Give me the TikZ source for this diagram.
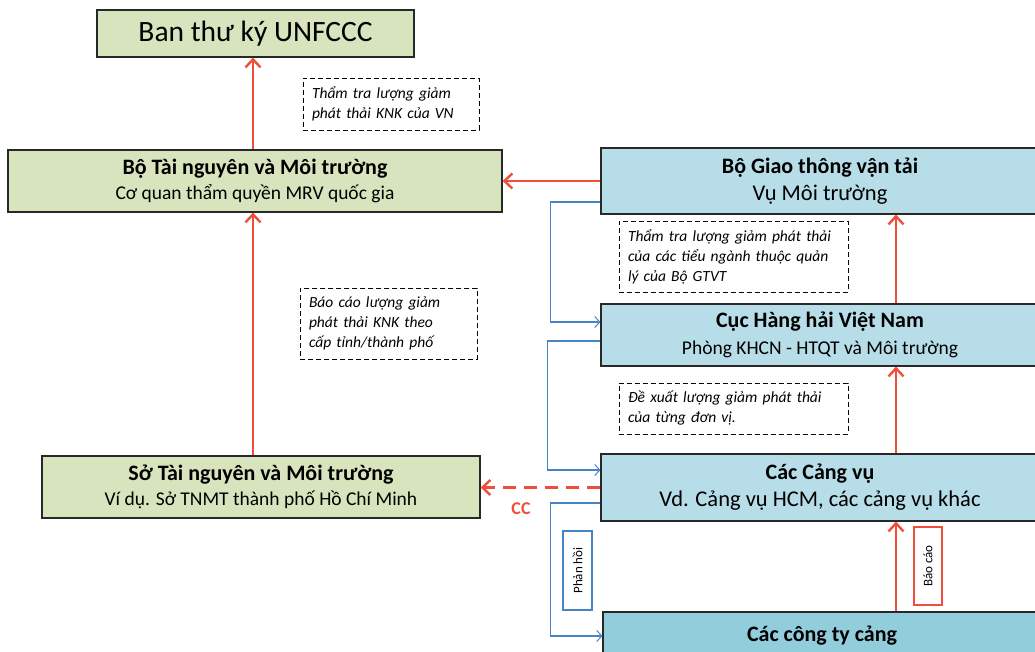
\documentclass[tikz,border=0pt]{standalone}
\usepackage{fontspec}
\setmainfont{Carlito}
\usetikzlibrary{arrows.meta}
\definecolor{gfill}{RGB}{215,228,189}
\definecolor{bfill}{RGB}{183,221,232}
\definecolor{bfilld}{RGB}{146,205,220}
\definecolor{redarr}{RGB}{238,78,58}
\definecolor{bline}{RGB}{70,132,200}
\definecolor{bord}{RGB}{40,40,40}
\newcommand{\ttlf}{\fontsize{22}{26}\selectfont\bfseries}
\newcommand{\subf}{\fontsize{19.5}{26}\selectfont}
\newcommand{\subg}{\fontsize{22.5}{27}\selectfont}
\tikzset{
  gbox/.style={draw=bord, line width=1.2pt, fill=gfill, inner sep=0pt, align=center, font=\fontsize{20}{25}\selectfont},
  bbox/.style={draw=bord, line width=1.2pt, fill=bfill, inner sep=0pt, align=center, font=\fontsize{20}{27}\selectfont},
  note/.style={draw=black, line width=0.9pt, dash pattern=on 5pt off 3pt, inner xsep=9pt, inner ysep=4pt, align=left, font=\fontsize{15.5}{20}\selectfont\itshape},
  redarrow/.style={draw=redarr, line width=2.8pt, -{Straight Barb[length=8pt,width=15pt,line width=2.4pt]}},
  bluearrow/.style={draw=bline, line width=1.1pt, -{Straight Barb[length=5pt,width=11pt,line width=1pt]}},
  tag/.style={line width=1.1pt, inner sep=0pt, rotate=90, font=\fontsize{13}{15}\selectfont},
}
\begin{document}
\begin{tikzpicture}[x=1pt,y=-1pt]
\useasboundingbox (0,0) rectangle (1035,651);
\clip (0,0) rectangle (1035,651);

\node[gbox, minimum width=317pt, minimum height=47pt, font=\fontsize{29.5}{32}\selectfont] (unfccc) at (255.5,33.5) {Ban thư ký UNFCCC};
\node[gbox, minimum width=494pt, minimum height=62pt] (bo) at (255,181) {{\ttlf Bộ Tài nguyên và Môi trường}\\{\subf Cơ quan thẩm quyền MRV quốc gia}};
\node[gbox, minimum width=438pt, minimum height=62pt] (so) at (261,487) {{\ttlf Sở Tài nguyên và Môi trường}\\{\subf Ví dụ. Sở TNMT thành phố Hồ Chí Minh}};

\node[bbox, minimum width=438pt, minimum height=66pt] (gtvt) at (820,181) {{\ttlf Bộ Giao thông vận tải}\\{\subg Vụ Môi trường}};
\node[bbox, minimum width=438pt, minimum height=62pt] (cuc) at (820,335) {{\ttlf Cục Hàng hải Việt Nam}\\{\subf Phòng KHCN - HTQT và Môi trường}};
\node[bbox, minimum width=438pt, minimum height=67pt] (cv) at (820,487.5) {{\ttlf Các Cảng vụ}\\{\subg Vd. Cảng vụ HCM, các cảng vụ khác}};
\node[bbox, fill=bfilld, minimum width=438pt, minimum height=48pt, font=\ttlf] (cty) at (822,636) {Các công ty cảng};

\node[note, minimum width=176pt, minimum height=52pt, text width=158pt] (n1) at (391,104) {Thẩm tra lượng giảm\\phát thải KNK của VN};
\node[note, minimum width=177pt, minimum height=71pt, text width=159pt] (n2) at (388.5,323.5) {Báo cáo lượng giảm\\phát thải KNK theo\\cấp tỉnh/thành phố};
\node[note, minimum width=229pt, minimum height=71pt, text width=211pt] (n3) at (733.5,256.5) {Thẩm tra lượng giảm phát thải\\của các tiểu ngành thuộc quản\\lý của Bộ GTVT};
\node[note, minimum width=229pt, minimum height=51pt, text width=211pt] (n4) at (733.5,408.5) {Đề xuất lượng giảm phát thải\\của từng đơn vị.};

% red arrows
\draw[redarrow] ([xshift=-2pt]bo.north) -- ([xshift=-2.5pt]unfccc.south);
\draw[redarrow] ([xshift=-8pt]so.north) -- ([xshift=-2pt]bo.south);
\draw[redarrow] (gtvt.west) -- (bo.east |- gtvt.west);
\draw[redarrow] ([xshift=76pt]cuc.north) -- ([xshift=76pt]gtvt.south);
\draw[redarrow] ([xshift=76pt]cv.north) -- ([xshift=76pt]cuc.south);
\draw[redarrow] ([xshift=74pt]cty.north) -- ([xshift=76pt]cv.south);
\draw[redarrow, dash pattern=on 13pt off 8pt] (cv.west) -- (so.east |- cv.west);
\node[text=redarr, font=\fontsize{18}{20}\selectfont\bfseries] (cc) at (521,509) {CC};

% blue connectors
\draw[bluearrow] ([yshift=-21pt]gtvt.west) -- ++(-50,0) |- ([yshift=13pt]cuc.west);
\draw[bluearrow] ([yshift=-6pt]cuc.west) -- ++(-53,0) |- ([yshift=17.5pt]cv.west);
\draw[bluearrow] ([yshift=-15.5pt]cv.west) -- ++(-50,0) |- ([yshift=0pt]cty.west);

% tags
\node[tag, draw=bline, fill=white, minimum width=79pt, minimum height=29pt] (ph) at (577.5,570.5) {Phản hồi};
\node[tag, draw=redarr, fill=white, minimum width=78pt, minimum height=28pt] (bc) at (928,566) {Báo cáo};
\end{tikzpicture}
\end{document}
